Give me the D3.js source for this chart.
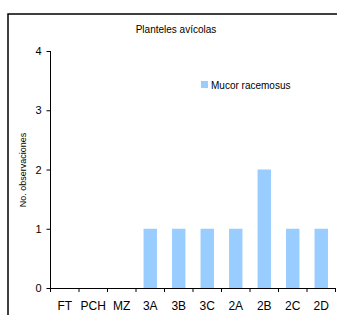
<!DOCTYPE html>
<html><head><meta charset="utf-8">
<script src="https://cdn.jsdelivr.net/npm/d3@7"></script>
<style>html,body{margin:0;padding:0;background:#fff;overflow:hidden}svg{display:block}</style>
</head><body>
<script>
const categories = ["FT","PCH","MZ","3A","3B","3C","2A","2B","2C","2D"];
const values = [0,0,0,1,1,1,1,2,1,1];
const yTicks = [0,1,2,3,4];
const seriesName = "Mucor racemosus";
const title = "Planteles avícolas";
const yLabel = "No. observaciones";

const W = 337, H = 315;
const FONT = "Liberation Sans, Arial, sans-serif";
const svg = d3.select("body").append("svg").attr("width", W).attr("height", H);
svg.append("rect").attr("x",8).attr("y",14).attr("width",340).attr("height",320)
  .attr("fill","#fff").attr("stroke","#000").attr("stroke-width",1.5);

const x = d3.scaleBand().domain(categories).range([50.5, 335.5]).paddingInner(0.53).paddingOuter(0.265);
const y = d3.scaleLinear().domain([0,4]).range([288, 51]);

svg.selectAll("rect.bar").data(values).join("rect").attr("class","bar")
  .attr("x",(d,i)=>x(categories[i])).attr("width",x.bandwidth())
  .attr("y",d=>y(d)).attr("height",d=>y(0)-y(d)).attr("fill","#99CCFF");

const yAxis = svg.append("g").attr("transform","translate(50.5,0)")
  .call(d3.axisLeft(y).tickValues(yTicks).tickFormat(d3.format("d")).tickSize(4).tickPadding(5));
yAxis.select(".domain").attr("d", `M-0,${y(4)}H0V${y(0)}`).attr("stroke","#000");
yAxis.selectAll("text").attr("font-family",FONT).attr("font-size",11).attr("fill","#000");

const xg = svg.append("g");
xg.append("line").attr("x1",50.5).attr("x2",335.5).attr("y1",y(0)+0.5).attr("y2",y(0)+0.5).attr("stroke","#000");
const step = x.step();
const bounds = d3.range(categories.length+1).map(i=>50.5 + i*step);
xg.selectAll("line.t").data(bounds).join("line").attr("class","t")
  .attr("x1",d=>d).attr("x2",d=>d).attr("y1",y(0)).attr("y2",y(0)+4).attr("stroke","#000");
xg.selectAll("text").data(categories).join("text")
  .attr("x",d=>x(d)+x.bandwidth()/2).attr("y",310)
  .attr("text-anchor","middle").attr("font-family",FONT)
  .attr("font-size",12).text(d=>d);

svg.append("text").attr("x",176).attr("y",33).attr("text-anchor","middle")
  .attr("font-family",FONT).attr("font-size",10).text(title);

svg.append("text").attr("transform","translate(26,170) rotate(-90)").attr("text-anchor","middle")
  .attr("font-family",FONT).attr("font-size",9).text(yLabel);

svg.append("rect").attr("x",201).attr("y",81).attr("width",7).attr("height",7).attr("fill","#99CCFF");
svg.append("text").attr("x",211).attr("y",88.5)
  .attr("font-family",FONT).attr("font-size",10).text(seriesName);
</script>
</body></html>
